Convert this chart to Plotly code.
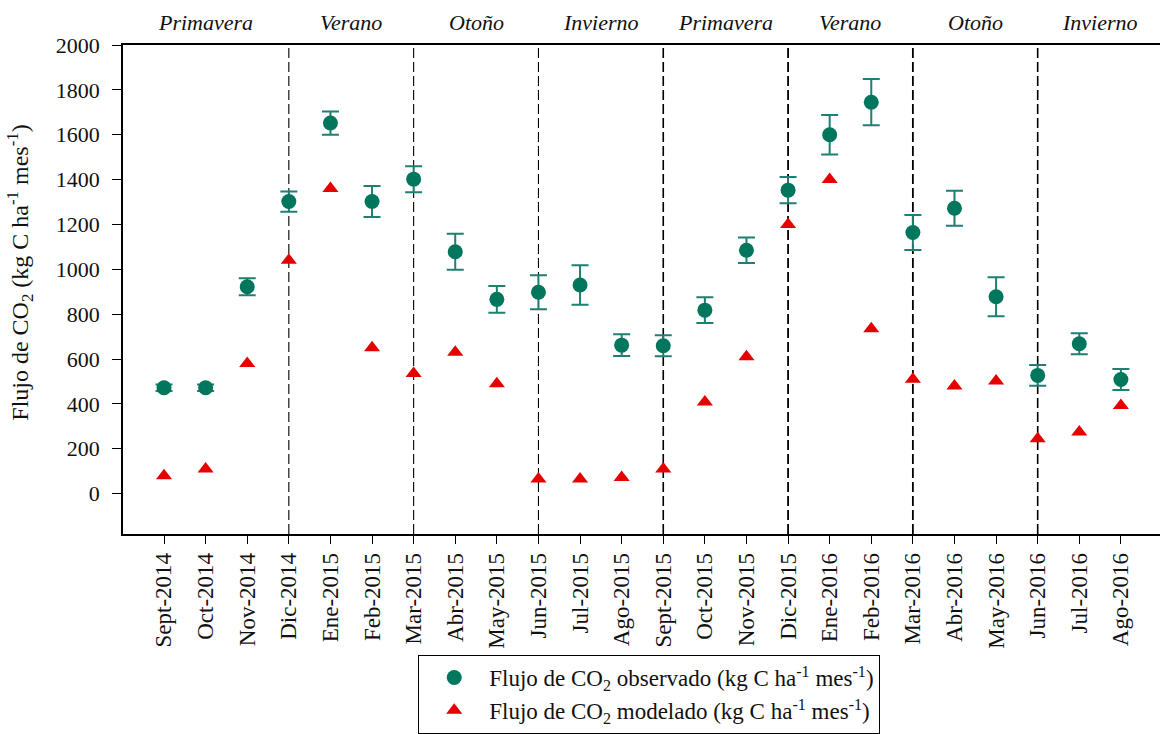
import plotly.graph_objects as go

# Monthly categories (Sept-2014 .. Ago-2016)
months = ["Sept-2014", "Oct-2014", "Nov-2014", "Dic-2014", "Ene-2015", "Feb-2015",
          "Mar-2015", "Abr-2015", "May-2015", "Jun-2015", "Jul-2015", "Ago-2015",
          "Sept-2015", "Oct-2015", "Nov-2015", "Dic-2015", "Ene-2016", "Feb-2016",
          "Mar-2016", "Abr-2016", "May-2016", "Jun-2016", "Jul-2016", "Ago-2016"]

# Observed CO2 flux (kg C ha-1 mes-1) and its error
observed = [472, 472, 922, 1302, 1652, 1302, 1402, 1078, 866, 898, 930, 662,
            659, 818, 1085, 1353, 1600, 1745, 1164, 1272, 878, 527, 668, 509]
observed_err = [15, 15, 38, 45, 52, 69, 58, 80, 60, 76, 88, 48,
                47, 57, 57, 59, 88, 103, 78, 78, 87, 46, 47, 47]

# Modelled CO2 flux (kg C ha-1 mes-1)
modelled = [80, 110, 580, 1040, 1360, 650, 535, 630, 490, 65, 65, 72,
            110, 408, 610, 1200, 1400, 735, 510, 480, 502, 245, 275, 393]

# Season boundaries (category index) and season labels
season_breaks = [3, 6, 9, 12, 15, 18, 21]
break_widths = [1.1, 1.1, 1.1, 1.6, 1.8, 1.8, 1.6]
seasons = ["Primavera", "Verano", "Otoño", "Invierno",
           "Primavera", "Verano", "Otoño", "Invierno"]
season_centers = [1, 4.5, 7.5, 10.5, 13.5, 16.5, 19.5, 22.5]

y_ticks = [0, 200, 400, 600, 800, 1000, 1200, 1400, 1600, 1800, 2000]

SERIF = "Liberation Serif"
TEAL = "#00775C"
TEAL_ERR = "#1F7F72"
RED = "#E60000"

idx = list(range(len(months)))

fig = go.Figure()

fig.add_trace(go.Scatter(
    x=idx, y=observed, mode="markers",
    name="Flujo de CO<sub>2</sub> observado (kg C ha<sup>-1</sup> mes<sup>-1</sup>)",
    marker=dict(symbol="circle", size=15, color=TEAL),
    error_y=dict(type="data", array=observed_err, visible=True,
                 color=TEAL_ERR, thickness=2, width=8.5),
))

fig.add_trace(go.Scatter(
    x=idx, y=modelled, mode="markers",
    name="Flujo de CO<sub>2</sub> modelado (kg C ha<sup>-1</sup> mes<sup>-1</sup>)",
    marker=dict(symbol="triangle-up", size=14, color=RED),
))

# Dashed season separators
for b, w in zip(season_breaks, break_widths):
    fig.add_shape(type="line", xref="x", yref="y", x0=b, x1=b, y0=-180, y1=2000,
                  line=dict(color="black", width=w, dash="10px,4px"), layer="below")

# Season names above the plot
for name, c in zip(seasons, season_centers):
    fig.add_annotation(x=c, xref="x", y=1.0, yref="paper", yshift=23,
                       text=f"<i>{name}</i>", showarrow=False,
                       font=dict(family=SERIF, size=22, color="#111"),
                       xanchor="center", yanchor="middle")

# Y-axis title
fig.add_annotation(x=-0.099, xref="paper", y=0.535, yref="paper",
                   text="Flujo de CO<sub>2</sub> (kg C ha<sup>-1</sup> mes<sup>-1</sup>)",
                   textangle=-90, showarrow=False,
                   font=dict(family=SERIF, size=24, color="#111"),
                   xanchor="center", yanchor="middle")

fig.update_layout(
    width=1160, height=734,
    margin=dict(l=123, r=0, t=45, b=200),
    paper_bgcolor="white", plot_bgcolor="white",
    font=dict(family=SERIF, color="#111"),
    showlegend=True,
    legend=dict(x=0.2845, y=-0.247, xanchor="left", yanchor="top",
                xref="paper", yref="paper",
                bordercolor="black", borderwidth=1.2, bgcolor="white",
                font=dict(family=SERIF, size=23, color="#111"),
                itemwidth=60, tracegroupgap=0),
    xaxis=dict(
        range=[-0.986, 23.94], tickmode="array", tickvals=idx, ticktext=months,
        tickangle=-90, ticks="outside", ticklen=8, tickwidth=1.2, tickcolor="black",
        showline=True, linecolor="black", linewidth=1.5, mirror=True,
        showgrid=False, zeroline=False,
        tickfont=dict(family=SERIF, size=23, color="#111"),
    ),
    yaxis=dict(
        range=[-180, 2000], tickmode="array", tickvals=y_ticks,
        ticks="outside", ticklen=9, tickwidth=1.2, tickcolor="black",
        showline=True, linecolor="black", linewidth=1.5, mirror=False,
        showgrid=False, zeroline=False, ticklabelstandoff=8,
        tickfont=dict(family=SERIF, size=22, color="#111"),
    ),
)

fig.write_html("out.html")
